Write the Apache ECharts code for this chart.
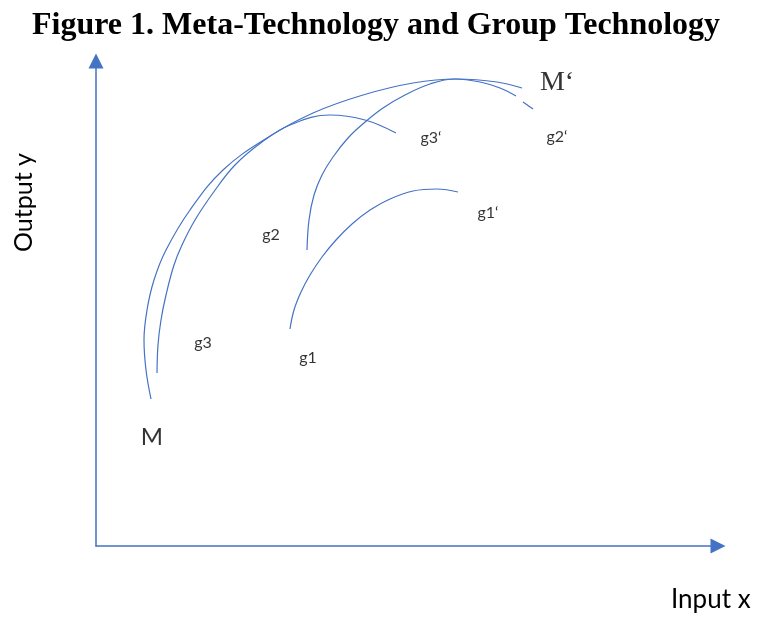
<!DOCTYPE html>
<html>
<head>
<meta charset="utf-8">
<script src="https://cdn.jsdelivr.net/npm/echarts@6/dist/echarts.min.js"></script>
<style>
  html, body { margin: 0; padding: 0; background: #fff; }
  #chart { width: 758px; height: 618px; }
</style>
</head>
<body>
<div id="chart"></div>
<script>
// curves, [input x, output y]
var metaM = [[55,147],[50,176],[48,206],[51,236],[58,266],[70,296],[94,336],[127,376],[171,408],[217,433],[267,451],[317,463],[361,467],[401,464],[426,458]];
var g3 = [[61,173],[62,201],[65,226],[70,251],[78,281],[86,301],[99,326],[117,353],[139,381],[166,404],[194,421],[234,431],[269,426],[300,413]];
var g2 = [[211,296],[213,326],[218,351],[226,371],[237,389],[252,408],[268,423],[287,438],[309,451],[334,462],[359,467],[384,464],[404,458],[420,450]];
var g2Tail = [[427,444],[437,437]];
var g1 = [[194,217],[198,236],[205,254],[214,271],[226,289],[240,306],[256,322],[274,336],[294,347],[317,355],[341,357],[362,354]];

// curve labels
var labelNames = ['M', 'g3', 'g1', 'g2', 'g1‘', 'g3‘', 'g2‘', 'M‘'];
var labelX = [56, 107, 212, 175, 392, 335, 461, 461];
var labelY = [109, 203, 188, 311, 333, 408, 409, 463];

var blue = '#4472C4';

var myChart = echarts.init(document.getElementById('chart'));

function curve(name, pts) {
  return {
    name: name,
    type: 'line',
    data: pts,
    smooth: 0.4,
    showSymbol: false,
    silent: true,
    lineStyle: { color: blue, width: 1.2 }
  };
}

var labelData = labelNames.map(function (n, i) {
  var item = { name: n, value: [labelX[i], labelY[i]] };
  if (n === 'M') {
    item.label = { fontSize: 24 };
  } else if (n === 'M‘') {
    item.label = { fontSize: 28, fontFamily: 'Liberation Serif' };
  }
  return item;
});

var option = {
  animation: false,
  title: {
    text: 'Figure 1. Meta-Technology and Group Technology',
    left: 27,
    top: 5,
    textStyle: {
      fontFamily: 'Liberation Serif',
      fontWeight: 'bold',
      fontSize: 32,
      color: '#000'
    }
  },
  grid: { left: 96, top: 61, right: 40, bottom: 72, outerBoundsMode: 'none', containLabel: false },
  xAxis: {
    type: 'value',
    min: 0,
    max: 622,
    axisLine: {
      show: true,
      symbol: ['none', 'triangle'],
      symbolSize: [15, 15],
      lineStyle: { color: blue, width: 1.5 }
    },
    axisTick: { show: false },
    axisLabel: { show: false },
    splitLine: { show: false }
  },
  yAxis: {
    type: 'value',
    min: 0,
    max: 485,
    axisLine: {
      show: true,
      symbol: ['none', 'triangle'],
      symbolSize: [15, 15],
      lineStyle: { color: blue, width: 1.5 }
    },
    axisTick: { show: false },
    axisLabel: { show: false },
    splitLine: { show: false }
  },
  graphic: [{
    type: 'text',
    left: 671,
    top: 587,
    style: { text: 'Input x', font: '26px Lato', fill: '#000' }
  }, {
    type: 'text',
    x: 11,
    y: 252,
    rotation: Math.PI / 2,
    style: { text: 'Output y', font: '25px Lato', fill: '#000', align: 'left', verticalAlign: 'top' }
  }],
  series: [
    curve('M', metaM),
    curve('g3', g3),
    curve('g2', g2),
    curve('g2 tail', g2Tail),
    curve('g1', g1),
    {
      name: 'labels',
      type: 'scatter',
      symbolSize: 0,
      silent: true,
      data: labelData,
      label: {
        show: true,
        position: 'inside',
        formatter: '{b}',
        fontFamily: 'Lato',
        fontSize: 16,
        color: '#000'
      }
    }
  ]
};

myChart.setOption(option);
</script>
</body>
</html>
